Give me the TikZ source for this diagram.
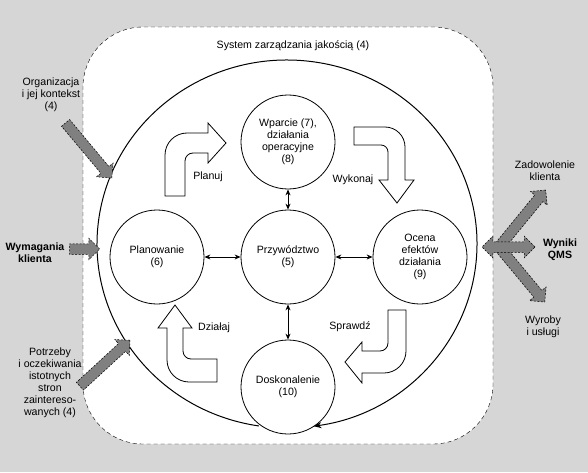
\documentclass[tikz,border=0pt]{standalone}
\usepackage{fontspec}
\setmainfont{Liberation Sans}
\usetikzlibrary{arrows.meta, shapes.arrows}

\definecolor{bggray}{RGB}{214,214,214}
\definecolor{arrowgray}{RGB}{128,128,128}

\begin{document}
\begin{tikzpicture}[x=1pt, y=1pt, font=\fontsize{10.6}{12}\selectfont,
  bubble/.style={circle, draw, line width=0.8pt, minimum size=94pt, inner sep=0pt, align=center},
  link/.style={{Stealth[length=6pt,width=5pt]}-{Stealth[length=6pt,width=5pt]}, line width=0.9pt},
  blockarrow/.style={draw, fill=white, line width=0.8pt},
  grayarrow/.style={single arrow, fill=arrowgray, draw=black, dash pattern=on 2pt off 1.5pt, line width=0.5pt, inner sep=5pt, single arrow head extend=5.5pt},
  graydouble/.style={double arrow, fill=arrowgray, draw=black, dash pattern=on 2pt off 1.5pt, line width=0.5pt, inner sep=5pt, double arrow head extend=5.5pt},
  boldlabel/.style={align=center, font=\fontsize{10.6}{12}\selectfont\bfseries}]
%\draw[help lines, step=20] (0,0) grid (588,472);
\fill[bggray] (0,0) rectangle (588,472);
\draw[dash pattern=on 4pt off 3pt, fill=white, rounded corners=60pt] (83,28) rectangle (493,445);

\node (system) at (293,426) {System zarządzania jakością (4)};

% big cycle
\draw[line width=1pt, -{Stealth[length=8pt,width=6pt]}, shift={(287,228)}] (261.5:190 and 184) arc [start angle=261.5, end angle=-82, x radius=190, y radius=184];

\node[bubble] (wsparcie) at (288,330) {Wparcie (7),\\działania\\operacyjne\\(8)};
\node[bubble] (przywodztwo) at (288,215) {Przywództwo\\(5)};
\node[bubble] (planowanie) at (157,215) {Planowanie\\(6)};
\node[bubble] (ocena) at (420,215) {Ocena\\efektów\\działania\\(9)};
\node[bubble] (doskonalenie) at (288,85) {Doskonalenie\\(10)};

\draw[link] (wsparcie) -- (przywodztwo);
\draw[link] (planowanie) -- (przywodztwo);
\draw[link] (przywodztwo) -- (ocena);
\draw[link] (przywodztwo) -- (doskonalenie);

% plan - do - check - act
\draw[blockarrow] (165,276) -- (165,317) arc [start angle=180, end angle=90, radius=22] -- (208,339) -- (208,349) -- (226,329) -- (208,309) -- (208,319) -- (193,319) arc [start angle=90, end angle=180, radius=8] -- (185,276) -- cycle;
\draw[blockarrow] (354,345) -- (385,345) arc [start angle=90, end angle=0, radius=20] -- (405,292) -- (414,292) -- (397,269) -- (379,292) -- (388,292) -- (388,320) arc [start angle=0, end angle=90, radius=7] -- (354,327) -- cycle;
\draw[blockarrow] (388,162) -- (406,162) -- (406,121) arc [start angle=0, end angle=-90, radius=22] -- (362,99) -- (362,89) -- (345,110) -- (362,130) -- (362,121) -- (380,121) arc [start angle=-90, end angle=0, radius=8] -- cycle;
\draw[blockarrow] (217,113) -- (191,113) arc [start angle=-90, end angle=-180, radius=8] -- (183,144) -- (192,144) -- (175,167) -- (158,144) -- (167,144) -- (167,112) arc [start angle=180, end angle=270, radius=22] -- (217,90) -- cycle;

\node (planuj) at (208,295) {Planuj};
\node (wykonaj) at (353,292) {Wykonaj};
\node (sprawdz) at (350,145) {Sprawdź};
\node (dzialaj) at (214,144) {Działaj};

% inputs
\node[align=center] (organizacja) at (51,377) {Organizacja\\i jej kontekst\\(4)};
\node[boldlabel] (wymagania) at (35,219) {Wymagania\\klienta};
\node[align=center] (potrzeby) at (50,89) {Potrzeby\\i oczekiwania\\istotnych\\stron\\zaintereso-\\wanych (4)};
\coordinate (orgtail) at (64,351);
\coordinate (orgtip) at (110,296);
\coordinate (wymtail) at (67,223);
\coordinate (wymtip) at (97,223);
\coordinate (pottail) at (78,84);
\coordinate (pottip) at (128,130);
\path (orgtail) -- (orgtip) node[grayarrow, midway, sloped, minimum height=72pt] {};
\path (wymtail) -- (wymtip) node[grayarrow, midway, sloped, minimum height=30pt] {};
\path (pottail) -- (pottip) node[grayarrow, midway, sloped, minimum height=68pt] {};

% outputs
\node[align=center] (zadowolenie) at (545,301) {Zadowolenie\\klienta};
\node[boldlabel] (wyniki) at (560,222) {Wyniki\\QMS};
\node[align=center] (wyroby) at (543,145) {Wyroby\\i usługi};
\coordinate (hub) at (499,225);
\coordinate (uptip) at (544,280);
\coordinate (downtip) at (543,172);
\coordinate (lefttip) at (482,225);
\coordinate (righttip) at (535,225);
\path (hub) -- (uptip) node[grayarrow, midway, sloped, minimum height=71pt] {};
\path (hub) -- (downtip) node[grayarrow, midway, sloped, minimum height=69pt] {};
\path (lefttip) -- (righttip) node[graydouble, midway, minimum height=53pt] {};
\end{tikzpicture}
\end{document}
